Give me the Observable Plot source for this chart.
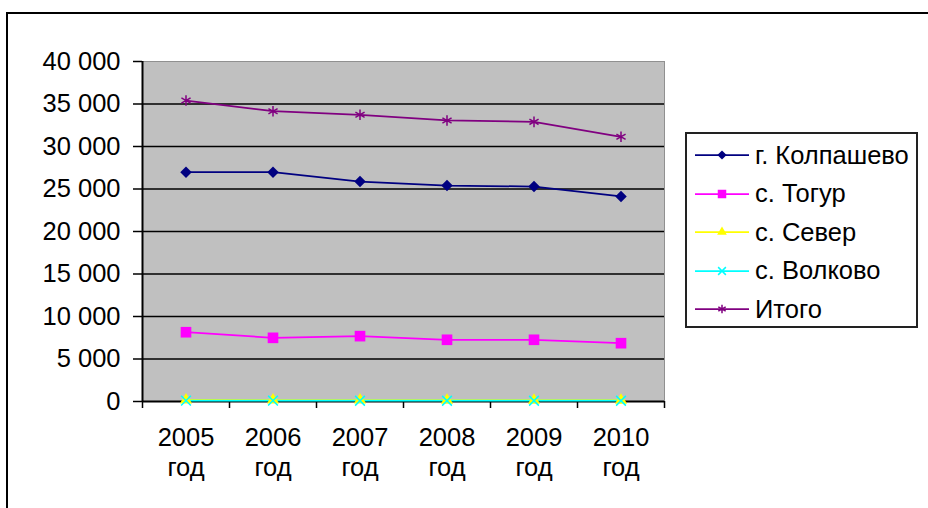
<!DOCTYPE html>
<html><head><meta charset="utf-8">
<script src="https://cdn.jsdelivr.net/npm/d3@7"></script>
<script src="https://cdn.jsdelivr.net/npm/@observablehq/plot@0.6"></script>
<style>
body{margin:0;background:#fff;}
#wrap{position:relative;width:928px;height:508px;overflow:hidden;font-family:Arial,"Liberation Sans",sans-serif;}
#border{position:absolute;left:6px;top:12px;width:940px;height:520px;border:2px solid #000;box-sizing:border-box;}
#chart{position:absolute;left:0;top:0;}
#legend{position:absolute;left:685px;top:132px;width:233px;height:196px;border:2px solid #222;box-sizing:border-box;background:#fff;}
.item{position:absolute;left:8px;height:30px;display:flex;align-items:center;font-size:25.5px;color:#000;white-space:nowrap;}
.item svg{margin-right:6px;}
</style></head><body>
<div id="wrap"><div id="border"></div><div id="chart"></div><div id="legend"></div></div>
<script>
// ---- data ----
const years = [2005, 2006, 2007, 2008, 2009, 2010];
const yearLabels = ["2005\nгод", "2006\nгод", "2007\nгод", "2008\nгод", "2009\nгод", "2010\nгод"];
const kolpashevo = [26980, 26980, 25880, 25410, 25290, 24120];
const togur = [8150, 7490, 7690, 7260, 7260, 6860];
const sever = [180, 170, 170, 160, 160, 160];
const volkovo = [100, 100, 90, 90, 90, 90];
const itogo = [35410, 34150, 33730, 33060, 32900, 31140];
const seriesNames = ["г. Колпашево", "с. Тогур", "с. Север", "с. Волково", "Итого"];
const seriesColors = ["#000080", "#FF00FF", "#FFFF00", "#00FFFF", "#800080"];
const seriesSymbols = ["square", "square", "triangle", "times", "asterisk"];
const seriesRotate = [45, 0, 0, 0, 0];
const yTicks = [0, 5000, 10000, 15000, 20000, 25000, 30000, 35000, 40000];

const seriesValues = [kolpashevo, togur, sever, volkovo, itogo];
const filledSym = new Set(["square", "triangle"]);
const data = [];
seriesNames.forEach((s, k) => years.forEach((y, i) => data.push({year: y, series: s, value: seriesValues[k][i]})));
const boundaries = [...years.map(y => y - 0.5), years[years.length - 1] + 0.5];
const symR = [4.6, 6, 4.5, 4.5, 5];
const fmt = d => d3.format(",")(d).replace(/,/g, " ");

const chart = Plot.plot({
  width: 928, height: 508,
  marginLeft: 142, marginRight: 264, marginTop: 61, marginBottom: 107,
  style: {fontFamily: "Arial, 'Liberation Sans', sans-serif", fontSize: "25.5px", color: "#000", background: "transparent"},
  x: {domain: [boundaries[0], boundaries[boundaries.length - 1]]},
  y: {domain: [0, 40000]},
  color: {domain: seriesNames, range: seriesColors},
  marks: [
    Plot.frame({fill: "#C0C0C0", stroke: "#909090"}),
    Plot.ruleY(yTicks.slice(1, -1), {stroke: "#000", strokeWidth: 1.5}),
    Plot.axisY({ticks: yTicks, tickSize: 9, tickPadding: 13, tickFormat: fmt, strokeWidth: 1.5, label: null}),
    Plot.axisX({ticks: boundaries, tickSize: 7, tickFormat: () => "", strokeWidth: 1.5, label: null}),
    Plot.axisX({ticks: years, tickSize: 0, tickPadding: 23, tickFormat: (d, i) => yearLabels[i], lineHeight: 1.18, label: null}),
    Plot.ruleX([boundaries[0]], {stroke: "#000", strokeWidth: 2}),
    Plot.ruleY([0], {stroke: "#000", strokeWidth: 2}),
    Plot.line(data, {x: "year", y: "value", z: "series", stroke: "series", strokeWidth: 1.75}),
    ...seriesNames.map((s, k) => Plot.dot(data.filter(d => d.series === s), {
      x: "year", y: "value", symbol: seriesSymbols[k], r: symR[k], rotate: seriesRotate[k],
      fill: filledSym.has(seriesSymbols[k]) ? "series" : "none",
      stroke: filledSym.has(seriesSymbols[k]) ? "none" : "series",
      strokeWidth: 1.5
    }))
  ]
});
document.getElementById("chart").appendChild(chart);

// ---- legend ----
const d3sym = {square: d3.symbolSquare, triangle: d3.symbolTriangle, times: d3.symbolTimes, asterisk: d3.symbolAsterisk};
const lg = document.getElementById("legend");
seriesNames.forEach((s, k) => {
  const it = document.createElement("div");
  it.className = "item";
  it.style.top = (6 + k * 38.5) + "px";
  const sym = seriesSymbols[k];
  const r = symR[k] * 0.8;
  const path = d3.symbol(d3sym[sym], Math.PI * r * r)();
  const filled = filledSym.has(sym);
  it.innerHTML = `<svg width="54" height="20"><line x1="0" x2="54" y1="10" y2="10" stroke="${seriesColors[k]}" stroke-width="1.75"/><path transform="translate(27,10) rotate(${seriesRotate[k]})" d="${path}" fill="${filled ? seriesColors[k] : "none"}" stroke="${filled ? "none" : seriesColors[k]}" stroke-width="1.5"/></svg><span>${s}</span>`;
  lg.appendChild(it);
});
</script>
</body></html>
